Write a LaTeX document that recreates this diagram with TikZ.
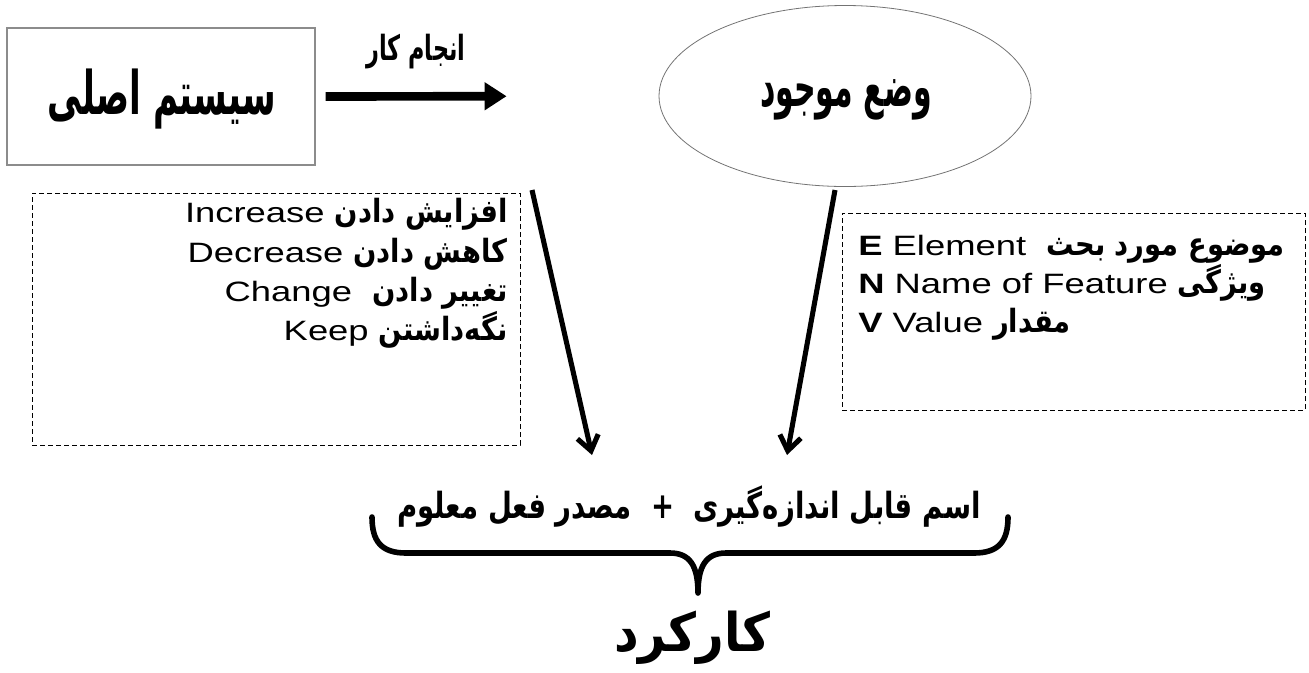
\documentclass[tikz,border=0pt]{standalone}
\usepackage{fontspec}
\usepackage{graphicx}
\usetikzlibrary{arrows.meta,shapes.geometric}
\TeXXeTstate=1
\setmainfont{Liberation Sans}[FakeStretch=1.3]
\newfontfamily\fafont[Script=Arabic]{DejaVu Sans}
% Persian run in bold: size #1, squeezed horizontally by #2
\newcommand\prs[3]{\scalebox{#2}[1]{\fontsize{#1}{#1}\selectfont\fafont\bfseries #3}}

\begin{document}
\begin{tikzpicture}[
  x=0.75pt, y=-0.75pt,
  sysbox/.style={draw=black!45, line width=0.8pt, minimum width=231pt, minimum height=102.75pt, inner sep=0pt},
  stateell/.style={ellipse, draw=black!55, line width=0.6pt, minimum width=279pt, minimum height=135.75pt, inner sep=0pt},
  dashbox/.style={draw, dashed, dash pattern=on 3.6pt off 2.4pt, line width=0.7pt, inner sep=0pt},
  listline/.style={inner sep=0pt, font=\fontsize{21pt}{25pt}\selectfont},
  flow/.style={line width=6.5pt, -{Triangle[length=16.5pt,width=20pt]}},
  feed/.style={line width=3.8pt, -{Straight Barb[length=11pt,width=16pt]}},
  bracepath/.style={line width=4.2pt, line cap=round, line join=round}
]
\useasboundingbox (0,0) rectangle (1309,672);

% main system and current state
\node[sysbox] (sys) at (161,96.5) {};
\node[inner sep=0pt] (systxt) at (162,99)
  {\prs{45pt}{0.57}{\beginR سیستم اصلی\endR}};
\node[stateell] (cur) at (845,96) {};
\node[inner sep=0pt] (curtxt) at (846,100)
  {\prs{42pt}{0.535}{\beginR وضع موجود\endR}};

% performing the work
\draw[flow, shorten <=7.5pt, shorten >=114pt] (sys.east) -- (cur.west);
\node[inner sep=0pt] (work) at (416,52)
  {\prs{26pt}{0.645}{\beginR انجام کار\endR}};

% verb list
\node[dashbox, minimum width=366pt, minimum height=189pt] (lbox) at (276,319) {};
\node[listline, anchor=base east] (l1) at (508,222) {Increase \prs{24pt}{0.855}{\beginR افزایش دادن\endR}};
\node[listline, anchor=base east] (l2) at (508,262) {Decrease \prs{24pt}{0.855}{\beginR کاهش دادن\endR}};
\node[listline, anchor=base east] (l3) at (508,301) {Change\ \ \prs{24pt}{0.855}{\beginR تغییر دادن\endR}};
\node[listline, anchor=base east] (l4) at (508,340) {Keep \prs{24pt}{0.855}{\beginR نگه^^^^200cداشتن\endR}};

% feature list
\node[dashbox, minimum width=347.25pt, minimum height=147.75pt] (rbox) at (1073.5,311.5) {};
\node[listline, anchor=base west] (r1) at (858,255)
  {\textbf{E} Element\ \ \prs{24pt}{0.855}{\beginR موضوع مورد بحث\endR}};
\node[listline, anchor=base west] (r2) at (858,293)
  {\textbf{N} Name of Feature \prs{24pt}{0.855}{\beginR ویژگی\endR}};
\node[listline, anchor=base west] (r3) at (858,332)
  {\textbf{V} Value \prs{24pt}{0.855}{\beginR مقدار\endR}};

% arrows into the formula
\coordinate (la0) at (532,190);
\coordinate (la1) at (592,455);
\coordinate (ra0) at (835,190);
\coordinate (ra1) at (787,455);
\draw[feed] (la0) -- (la1);
\draw[feed] (ra0) -- (ra1);

% formula and brace
\node[inner sep=0pt] (formula) at (689,507)
  {\prs{27pt}{0.765}{\beginR اسم قابل اندازه^^^^200cگیری\ \ +\ \ مصدر فعل معلوم\endR}};
\draw[bracepath] (372,517) .. controls (372,541) and (381,553) .. (406,553)
  -- (670,553) .. controls (690,553) and (698,566) .. (698,593)
  .. controls (698,566) and (706,553) .. (726,553)
  -- (974,553) .. controls (999,553) and (1008,541) .. (1008,517);
\node[inner sep=0pt] (func) at (692,638)
  {\prs{40pt}{0.9}{\beginR کارکرد\endR}};
\end{tikzpicture}
\end{document}
